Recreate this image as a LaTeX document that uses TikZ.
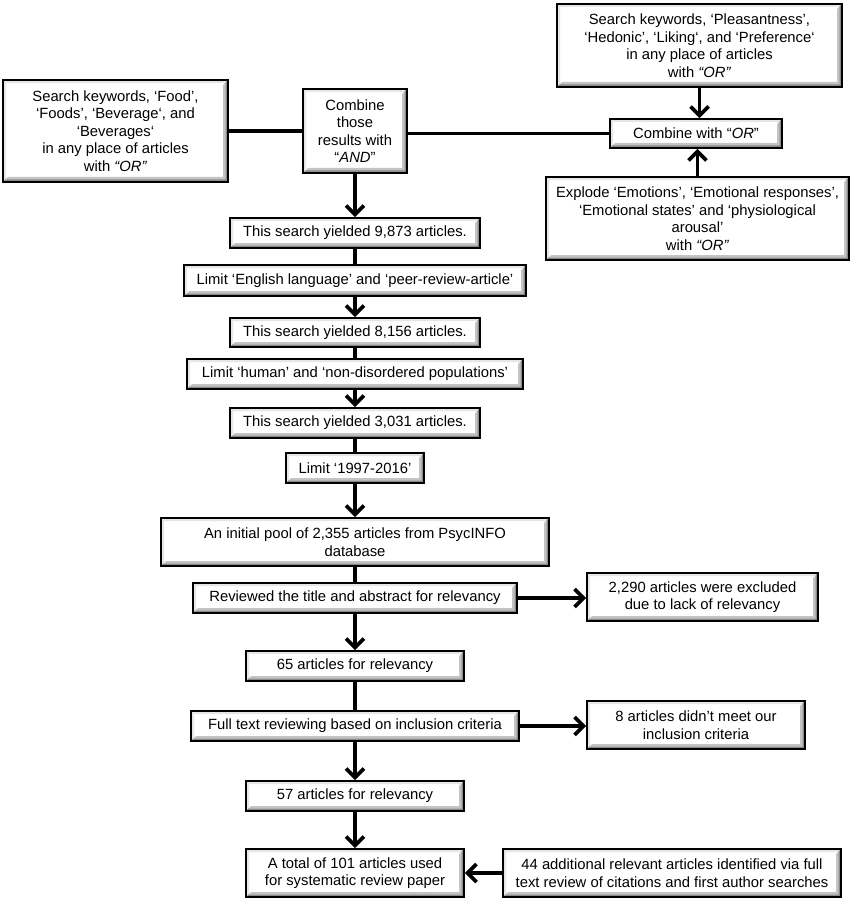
\documentclass[tikz,border=0pt]{standalone}
\usepackage{fontspec}
\setmainfont{Liberation Sans}
\usetikzlibrary{arrows.meta,calc}
\definecolor{bevdark}{HTML}{8C8C8C}
\definecolor{bevmid}{HTML}{C4C4C4}
\definecolor{bevlight}{HTML}{E6E6E6}
\tikzset{
  fbox/.style={draw=black, line width=1.6pt, fill=white, align=center,
    inner sep=0pt, font=\fontsize{14.8}{17.5}\selectfont,
    path picture={
      \coordinate (SW) at (path picture bounding box.south west);
      \coordinate (NE) at (path picture bounding box.north east);
      \coordinate (SE) at (path picture bounding box.south east);
      \coordinate (NW) at (path picture bounding box.north west);
      \fill[bevlight] (NW) -- (NE) -- ([xshift=-3pt,yshift=-3pt]NE) -- ([xshift=3pt,yshift=-3pt]NW) -- ([xshift=3pt,yshift=3pt]SW) -- (SW) -- cycle;
      \fill[bevmid] (SW) -- (SE) -- (NE) -- ([xshift=-5pt,yshift=-5pt]NE) -- ([xshift=-5pt,yshift=5pt]SE) -- ([xshift=5pt,yshift=5pt]SW) -- cycle;
      \fill[bevdark] (SW) -- (SE) -- (NE) -- ([xshift=-2.5pt,yshift=-2.5pt]NE) -- ([xshift=-2.5pt,yshift=2.5pt]SE) -- ([xshift=2.5pt,yshift=2.5pt]SW) -- cycle;
    }},
  conn/.style={line width=3.8pt, draw=black},
  arr/.style={conn, -{Straight Barb[length=9pt,width=18pt]}},
}
\newcommand{\bx}[6]{% name, x1,y1,x2,y2, text
  \node[fbox, minimum width={#4-#2}, minimum height={#5-#3}] (#1) at ({(#2+#4)/2},{(#3+#5)/2}) {#6};}
\begin{document}
\begin{tikzpicture}[x=1pt,y=-1pt]
\useasboundingbox (0,0) rectangle (856,901);
\bx{food}{3}{80}{228}{182}{Search keywords, ‘Food’,\\‘Foods’, ‘Beverage‘, and\\‘Beverages‘\\in any place of articles\\with \textit{“OR”}}
\bx{and}{303}{89}{407}{173}{Combine\\those\\results with\\“\textit{AND}”}
\bx{pleas}{557}{4}{842}{87}{Search keywords, ‘Pleasantness’,\\‘Hedonic’, ‘Liking‘, and ‘Preference‘\\in any place of articles\\with \textit{“OR”}}
\bx{orc}{610}{119}{782}{148}{Combine with “\textit{OR}”}
\bx{expl}{546}{177}{849}{260}{Explode ‘Emotions’, ‘Emotional responses’,\\‘Emotional states’ and ‘physiological\\arousal’\\with \textit{“OR”}}
\bx{s1}{230}{218}{480}{248}{This search yielded 9,873 articles.}
\bx{l1}{184}{265}{526}{296}{Limit ‘English language’ and ‘peer-review-article’}
\bx{s2}{230}{318}{480}{347}{This search yielded 8,156 articles.}
\bx{l2}{187}{359}{523}{389}{Limit ‘human’ and ‘non-disordered populations’}
\bx{s3}{230}{408}{480}{438}{This search yielded 3,031 articles.}
\bx{l3}{286}{453}{424}{483}{Limit ‘1997-2016’}
\bx{pool}{161}{518}{549}{566}{An initial pool of 2,355 articles from PsycINFO\\database}
\bx{rev}{193}{583}{517}{613}{Reviewed the title and abstract for relevancy}
\bx{excl}{587}{573}{818}{621}{2,290 articles were excluded\\due to lack of relevancy}
\bx{r65}{246}{651}{464}{681}{65 articles for relevancy}
\bx{full}{191}{711}{519}{741}{Full text reviewing based on inclusion criteria}
\bx{eight}{587}{701}{805}{749}{8 articles didn’t meet our\\inclusion criteria}
\bx{r57}{246}{781}{464}{811}{57 articles for relevancy}
\bx{total}{246}{849}{464}{897}{A total of 101 articles used\\for systematic review paper}
\bx{add}{503}{849}{841}{897}{44 additional relevant articles identified via full\\text review of citations and first author searches}
% connectors
\draw[conn] (food.east) -- (and.west |- food.east);
\draw[conn] (and.east |- orc.west) -- (orc.west);
\draw[arr] (pleas.south) -- (pleas.south |- orc.north);
\draw[arr] (expl.north) -- (expl.north |- orc.south);
\draw[arr] (and.south) -- (and.south |- s1.north);
\draw[conn] (s1.south) -- (s1.south |- l1.north);
\draw[arr] (s1.south |- l1.south) -- (s1.south |- s2.north);
\draw[conn] (s2.south) -- (s2.south |- l2.north);
\draw[arr] (s2.south |- l2.south) -- (s2.south |- s3.north);
\draw[conn] (s3.south) -- (s3.south |- l3.north);
\draw[arr] (l3.south) -- (l3.south |- pool.north);
\draw[conn] (pool.south) -- (pool.south |- rev.north);
\draw[arr] (pool.south |- rev.south) -- (pool.south |- r65.north);
\draw[conn] (r65.south) -- (r65.south |- full.north);
\draw[arr] (r65.south |- full.south) -- (r65.south |- r57.north);
\draw[arr] (r57.south) -- (total.north);
\draw[arr] (rev.east) -- (rev.east -| excl.west);
\draw[arr] (full.east) -- (full.east -| eight.west);
\draw[arr] (add.west) -- (total.east);
\end{tikzpicture}
\end{document}
